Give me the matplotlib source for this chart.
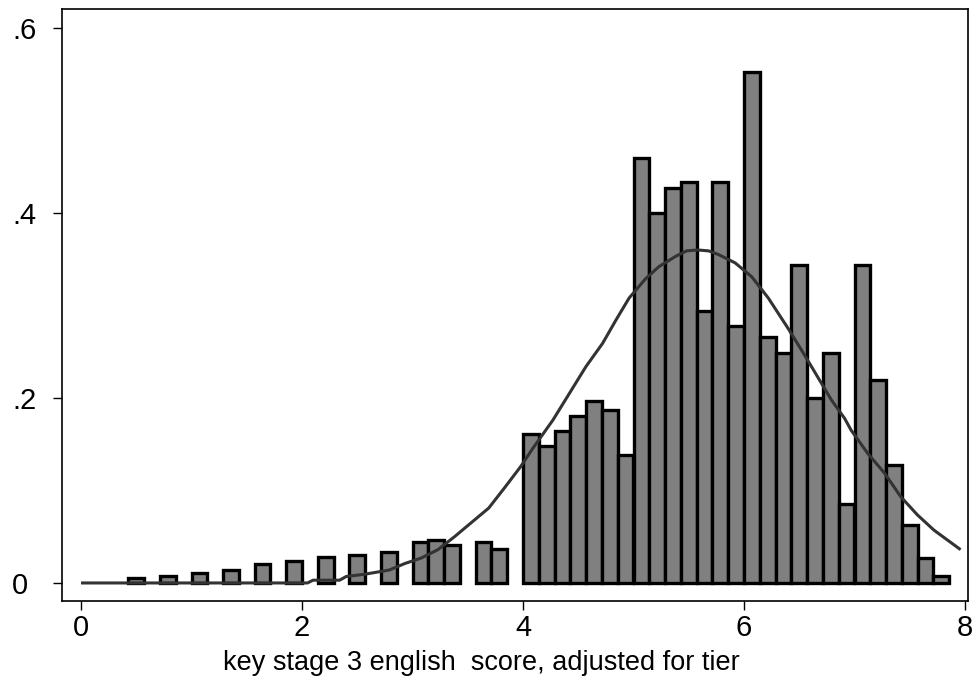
import matplotlib
matplotlib.use("Agg")
import matplotlib.pyplot as plt

# ---- data ----
bin_width = 1 / 7
bin_left = [0.429, 0.714, 1.000, 1.286, 1.571, 1.857, 2.143, 2.429, 2.714,
            3.000, 3.143, 3.286, 3.571, 3.714,
            4.000, 4.143, 4.286, 4.429, 4.571, 4.714, 4.857,
            5.000, 5.143, 5.286, 5.429, 5.571, 5.714, 5.857,
            6.000, 6.143, 6.286, 6.429, 6.571, 6.714, 6.857,
            7.000, 7.143, 7.286, 7.429, 7.571, 7.714]
density = [0.005, 0.008, 0.011, 0.0145, 0.021, 0.024, 0.028, 0.030, 0.034,
           0.044, 0.0467, 0.041, 0.044, 0.037,
           0.1606, 0.148, 0.164, 0.1805, 0.197, 0.187, 0.138,
           0.459, 0.400, 0.4265, 0.433, 0.294, 0.433, 0.278,
           0.552, 0.2655, 0.249, 0.344, 0.200, 0.249, 0.085,
           0.344, 0.2195, 0.128, 0.063, 0.027, 0.007]

kde_x = [0.00, 1.00, 2.05, 2.10, 2.34, 2.40, 2.57, 2.79, 2.93, 3.08, 3.23, 3.38,
         3.53, 3.69, 3.84, 3.98, 4.08, 4.27, 4.42, 4.57, 4.72, 4.84, 4.96, 5.11,
         5.23, 5.38, 5.48, 5.58, 5.68, 5.77, 5.92, 6.07, 6.22, 6.40, 6.55, 6.70,
         6.79, 6.91, 6.97, 7.12, 7.27, 7.42, 7.57, 7.72, 7.96]
kde_y = [0.000, 0.000, 0.000, 0.003, 0.003, 0.007, 0.0095, 0.014, 0.021, 0.027,
         0.036, 0.050, 0.065, 0.081, 0.104, 0.126, 0.144, 0.176, 0.205, 0.234,
         0.259, 0.284, 0.308, 0.329, 0.342, 0.353, 0.359, 0.360, 0.359, 0.355,
         0.346, 0.331, 0.308, 0.275, 0.246, 0.216, 0.198, 0.178, 0.165, 0.140,
         0.119, 0.093, 0.0735, 0.057, 0.036]

x_ticks = [0, 2, 4, 6, 8]
x_ticklabels = ["0", "2", "4", "6", "8"]
y_ticks = [0, 0.2, 0.4, 0.6]
y_ticklabels = ["0", ".2", ".4", ".6"]
x_label = "key stage 3 english  score, adjusted for tier"

# ---- figure ----
plt.rcParams['font.family'] = ['Liberation Sans', 'DejaVu Sans']
fig = plt.figure(figsize=(9.77, 7.0), dpi=100)
W, H = 977, 700
left, right, top, bottom = 62, 968, 9, 601
ax = fig.add_axes([left / W, 1 - bottom / H, (right - left) / W, (bottom - top) / H])

ax.bar(bin_left, density, width=bin_width, align='edge', color='#808080',
       edgecolor='black', linewidth=2.4, zorder=2)
ax.plot(kde_x, kde_y, color='#333333', linewidth=2.2, zorder=3,
        solid_joinstyle='round', solid_capstyle='butt')

ax.set_xlim(-0.172, 8.027)
ax.set_ylim(-0.0195, 0.6205)

ax.set_xticks(x_ticks)
ax.set_xticklabels(x_ticklabels)
ax.set_yticks(y_ticks)
ax.set_yticklabels(y_ticklabels)
ax.tick_params(axis='both', direction='out', length=6.3, width=1, colors='black',
               labelsize=21)
ax.tick_params(axis='x', pad=3)
# y labels left-justified near the figure edge (x ~ 12 px)
ax.tick_params(axis='y', pad=(53 - 12) * 0.72)
for lab in ax.get_yticklabels():
    lab.set_horizontalalignment('left')

for s in ax.spines.values():
    s.set_linewidth(1.2)
    s.set_color('black')

ax.set_xlabel(x_label, fontsize=19.5)
ax.xaxis.set_label_coords((481 - left) / (right - left), -(663 - bottom) / (bottom - top))
ax.xaxis.label.set_va('center')

fig.savefig("out.png", dpi=100)
